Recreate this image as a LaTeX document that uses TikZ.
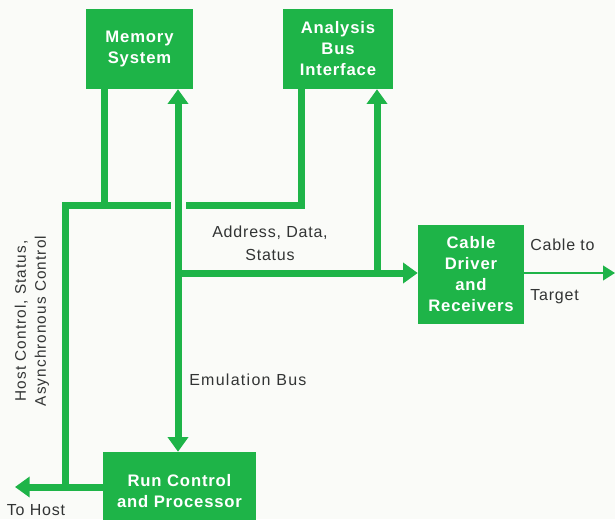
\documentclass[tikz,border=0pt]{standalone}
\usepackage{fontspec}
\setmainfont{Liberation Sans}
\usetikzlibrary{arrows.meta}
\definecolor{busgreen}{RGB}{30,180,72}
\definecolor{labelgray}{RGB}{50,52,52}
\definecolor{paper}{RGB}{250,251,248}

\begin{document}
\begin{tikzpicture}[x=0.75pt,y=0.75pt,yscale=-1,xscale=1,
  block/.style={fill=busgreen, text=white, align=center, inner sep=0pt,
    font=\bfseries\fontsize{12.5}{15.75}\selectfont\addfontfeatures{LetterSpace=5}},
  lbl/.style={text=labelgray, inner sep=0.75pt,
    font=\fontsize{12}{17}\selectfont\addfontfeatures{LetterSpace=5}},
  bus/.style={draw=busgreen, line width=5.25pt},
  wire/.style={draw=busgreen, line width=1.5pt},
  bigtip/.tip={Triangle[width=15pt,length=11pt]},
  smalltip/.tip={Triangle[width=11pt,length=9pt]}]
%set diagram to 615 x 519
\fill [paper] (0,0) rectangle (615,519);
\useasboundingbox (0,0) rectangle (615,519);

%Shape: Rectangle [id:mem]
\node (mem) at (139.5,49) [block, minimum width=80.25pt, minimum height=60pt] {Memory\\System};
%Shape: Rectangle [id:abi]
\node (abi) at (338,49) [block, minimum width=82.5pt, minimum height=60pt] {Analysis\\Bus\\Interface};
%Shape: Rectangle [id:cdr]
\node (cdr) at (471,274.5) [block, minimum width=79.5pt, minimum height=74.25pt] {Cable\\Driver\\and\\Receivers};
%Shape: Rectangle [id:rcp]
\node (rcp) at (179.5,491.5) [block, minimum width=114.75pt, minimum height=59.25pt] {Run Control\\and Processor};

% bends and tees
\coordinate (jl) at (65,205);
\coordinate (jm) at (104,205);
\coordinate (jr) at (301,205);
\coordinate (g1) at (171,205);
\coordinate (g2) at (186,205);
\coordinate (ja) at (178,273);
\coordinate (jn) at (377,273);
\coordinate (host) at (15,487);
\coordinate (cable) at (615,273);

%Straight Lines [id:memleg]
\draw [bus] (mem.south -| jm) -- (jm) ;
%Straight Lines [id:hostbus]
\draw [bus] (abi.south -| jr) -- (jr) -- (g2) ;
\draw [bus] (g1) -- (jl) -- (jl |- host) ;
\draw [bus, -bigtip] (rcp.west |- host) -- (host) ;
%Straight Lines [id:emubus]
\draw [bus, bigtip-bigtip] (mem.south -| ja) -- (rcp.north -| ja) ;
%Straight Lines [id:adrbus]
\draw [bus, -bigtip] (ja) -- (cdr.west |- ja) ;
\draw [bus, -bigtip] (jn) -- (abi.south -| jn) ;
%Straight Lines [id:cable]
\draw [wire, -smalltip] (cdr.east |- cable) -- (cable) ;

% Text Node
\node (adr) at (270,243.5) [lbl, align=center] {Address, Data,\\Status};
% Text Node
\node (emu) at (188,380) [lbl, anchor=west, font=\fontsize{12}{17}\selectfont\addfontfeatures{LetterSpace=8}] {Emulation Bus};
% Text Node
\node (cto) at (529,245) [lbl, anchor=west] {Cable to};
% Text Node
\node (tgt) at (529,297) [lbl, anchor=west] {Target};
% Text Node
\node (tho) at (36,510) [lbl] {To Host};
% Text Node
\node (hcs) at (32,321) [lbl, rotate=90, align=center, font=\fontsize{11.5}{15}\selectfont\addfontfeatures{LetterSpace=7}] {Host Control, Status,\\Asynchronous Control};

\end{tikzpicture}
\end{document}
